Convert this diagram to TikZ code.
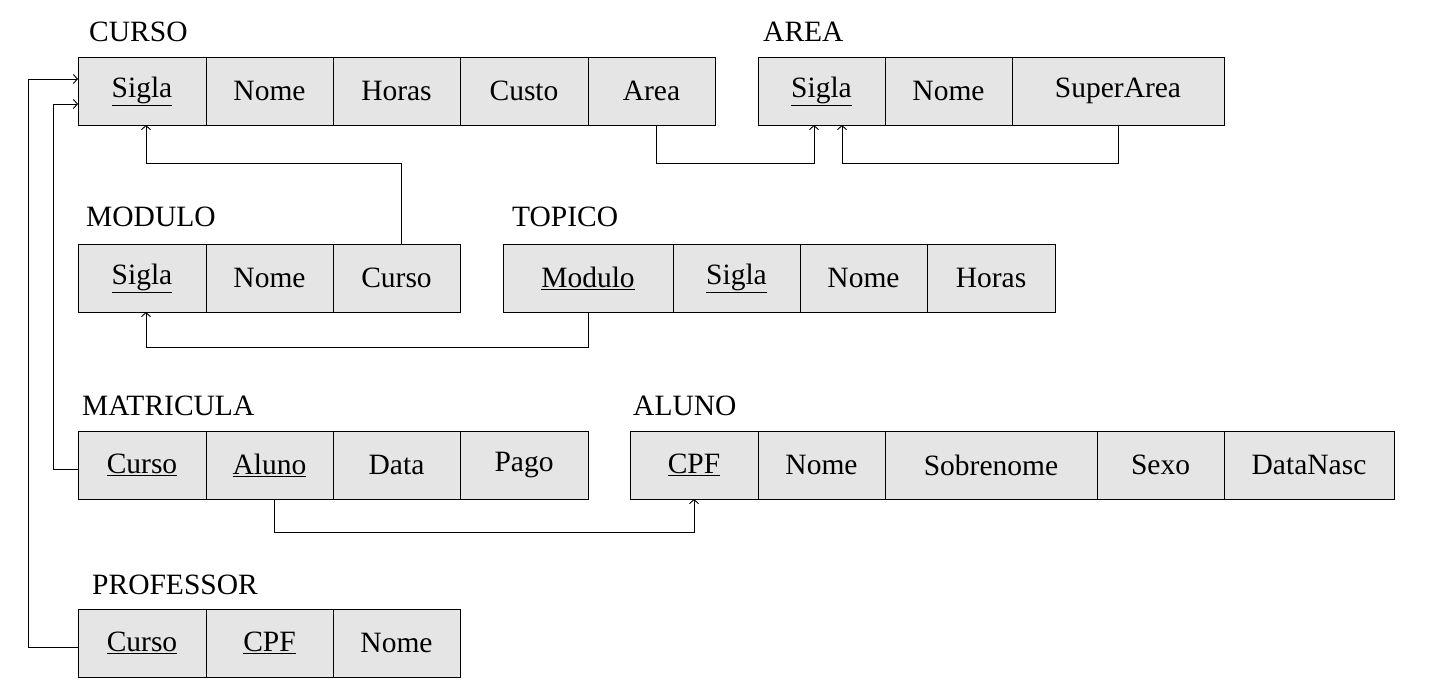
\documentclass[tikz,border=0pt]{standalone}
\usepackage{fontspec}
\setmainfont{Liberation Serif}
\usetikzlibrary{arrows.meta}
\begin{document}
\begin{tikzpicture}[x=1pt,y=-1pt,
  every node/.style={font=\fontsize{29.5}{34}\selectfont},
  cell/.style={draw=black, line width=0.9pt, fill=black!10, rectangle, minimum height=68pt, inner sep=0pt, outer sep=0pt},
  tbl/.style={anchor=base west, inner sep=0pt},
  fk/.style={draw=black, line width=0.9pt, -{Straight Barb[length=4pt,width=9pt]}}]
\useasboundingbox (0,0) rectangle (1440,700);
% CURSO
\node[tbl] (lcurso) at (89,42) {CURSO};
\node[cell, minimum width=128pt] (cSigla) at (142,91) {\underline{Sigla}};
\node[cell, minimum width=127pt] (cNome) at (269.5,91) {Nome};
\node[cell, minimum width=127pt] (cHoras) at (396.5,91) {Horas};
\node[cell, minimum width=128pt] (cCusto) at (524,91) {Custo};
\node[cell, minimum width=127pt] (cArea) at (651.5,91) {Area};
% AREA
\node[tbl] (larea) at (763,42) {AREA};
\node[cell, minimum width=127pt] (aSigla) at (821.5,91) {\underline{Sigla}};
\node[cell, minimum width=127pt] (aNome) at (948.5,91) {Nome};
\node[cell, minimum width=212pt] (aSuper) at (1118,91) {SuperArea};
% MODULO
\node[tbl] (lmodulo) at (86,227) {MODULO};
\node[cell, minimum width=128pt] (mSigla) at (142,278) {\underline{Sigla}};
\node[cell, minimum width=127pt] (mNome) at (269.5,278) {Nome};
\node[cell, minimum width=127pt] (mCurso) at (396.5,278) {Curso};
% TOPICO
\node[tbl] (ltopico) at (512,227) {TOPICO};
\node[cell, minimum width=170pt] (tModulo) at (588,278) {\underline{Modulo}};
\node[cell, minimum width=127pt] (tSigla) at (736.5,278) {\underline{Sigla}};
\node[cell, minimum width=127pt] (tNome) at (863.5,278) {Nome};
\node[cell, minimum width=128pt] (tHoras) at (991,278) {Horas};
% MATRICULA
\node[tbl] (lmatricula) at (82,415) {MATRICULA};
\node[cell, minimum width=128pt] (maCurso) at (142,465) {\underline{Curso}};
\node[cell, minimum width=127pt] (maAluno) at (269.5,465) {\underline{Aluno}};
\node[cell, minimum width=127pt] (maData) at (396.5,465) {Data};
\node[cell, minimum width=128pt] (maPago) at (524,465) {Pago};
% ALUNO
\node[tbl] (laluno) at (633,415) {ALUNO};
\node[cell, minimum width=128pt] (alCPF) at (694,465) {\underline{CPF}};
\node[cell, minimum width=127pt] (alNome) at (821.5,465) {Nome};
\node[cell, minimum width=212pt] (alSobre) at (991,465) {Sobrenome};
\node[cell, minimum width=127pt] (alSexo) at (1160.5,465) {Sexo};
\node[cell, minimum width=170pt] (alData) at (1309,465) {DataNasc};
% PROFESSOR
\node[tbl] (lprof) at (92,594) {PROFESSOR};
\node[cell, minimum width=128pt] (pCurso) at (142,643) {\underline{Curso}};
\node[cell, minimum width=127pt] (pCPF) at (269.5,643) {\underline{CPF}};
\node[cell, minimum width=127pt] (pNome) at (396.5,643) {Nome};
% connectors
\draw[fk] ([xshift=4.5pt]mCurso.north) -- ++(0,-81) -| ([xshift=4pt]cSigla.south);
\draw[fk] ([xshift=4.5pt]cArea.south) -- ++(0,38) -| ([xshift=-7.5pt]aSigla.south);
\draw[fk] (aSuper.south) -- ++(0,38) -| ([xshift=20.5pt]aSigla.south);
\draw[fk] (tModulo.south) -- ++(0,35) -| ([xshift=4pt]mSigla.south);
\draw[fk] ([xshift=4.5pt]maAluno.south) -- ++(0,33) -| (alCPF.south);
\draw[fk] ([yshift=-4pt]maCurso.west) -- ++(-25,0) |- ([yshift=-13pt]cSigla.west);
\draw[fk] ([yshift=-4pt]pCurso.west) -- ++(-50,0) |- ([yshift=12pt]cSigla.west);
\end{tikzpicture}
\end{document}
